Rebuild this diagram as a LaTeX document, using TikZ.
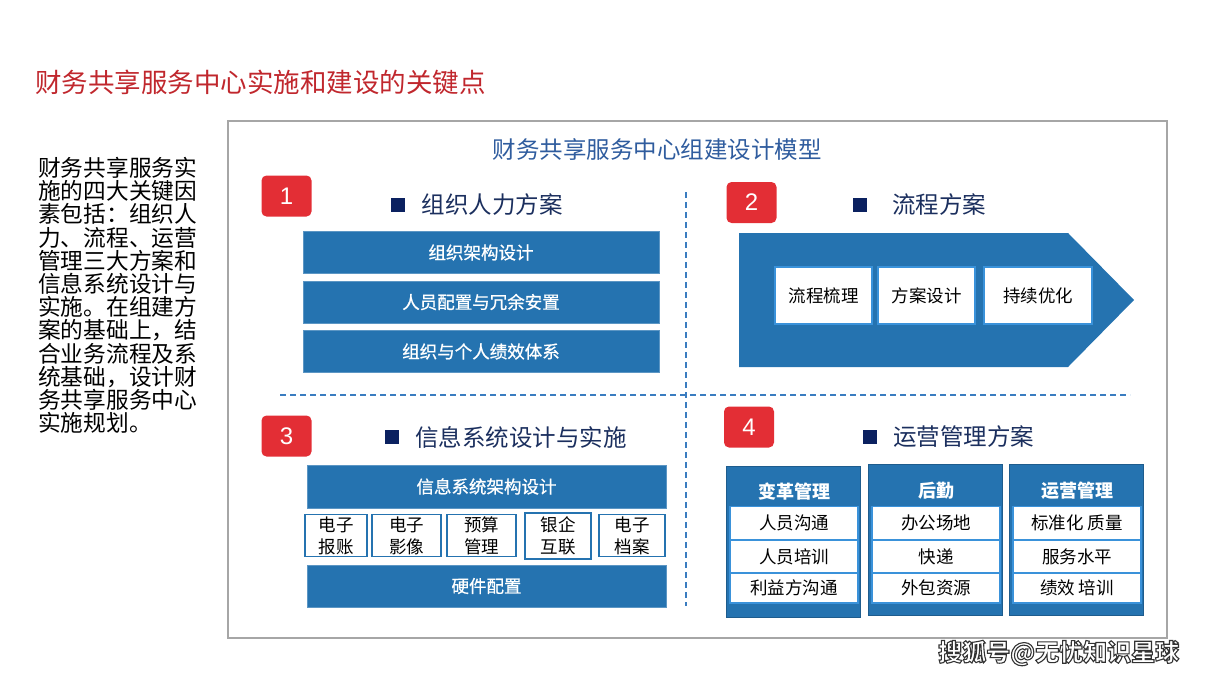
\documentclass[tikz,border=0pt]{standalone}
\usepackage{fontspec}
\setmainfont{Noto Sans CJK SC}
\newfontfamily\digitfont{Liberation Sans}
\newfontfamily\barfont[FakeBold=0.8]{Noto Sans CJK SC}

\definecolor{titlered}{HTML}{C0272D}
\definecolor{barblue}{HTML}{2573B0}
\definecolor{cellblue}{HTML}{3A92DA}
\definecolor{modelblue}{HTML}{2F5C9E}
\definecolor{headnavy}{HTML}{1B2F5E}
\definecolor{sqnavy}{HTML}{0B2160}
\definecolor{badgered}{HTML}{E32E35}
\definecolor{framegray}{HTML}{A6A6A6}
\definecolor{dashblue}{HTML}{3A7CC0}

\begin{document}
\begin{tikzpicture}[x=1pt,y=-1pt,
  badge/.style={fill=badgered,rounded corners=5,minimum width=50,minimum height=41,inner sep=0,text=white,font=\digitfont\fontsize{24}{24}\selectfont},
  hsq/.style={fill=sqnavy,minimum size=14,inner sep=0},
  head/.style={anchor=west,inner sep=0,text=headnavy,font=\fontsize{23.5}{26}\selectfont},
  bar/.style={fill=barblue,draw=barblue!75!white,line width=0.8,minimum width=356,minimum height=42,inner sep=0,text=white,font=\barfont\fontsize{17.5}{20}\selectfont},
  wbox/.style={fill=white,draw=cellblue,line width=1.5,minimum height=57,inner sep=0,font=\fontsize{17.5}{20}\selectfont},
  sbox/.style={fill=white,draw=barblue,line width=1.2,minimum height=42,inner sep=0,align=center,font=\fontsize{17.5}{22}\selectfont},
  colbox/.style={fill=barblue,draw=barblue!80!black,line width=0.8,minimum width=134,minimum height=151,inner sep=0},
  colhead/.style={text=white,inner sep=0,font=\bfseries\fontsize{18}{20}\selectfont},
  cell/.style={fill=white,draw=cellblue,line width=1.5,minimum width=128,inner sep=0,font=\fontsize{17.5}{20}\selectfont}]
  \useasboundingbox (0,0) rectangle (1209,680);

  % page title and side text
  \node[anchor=west,inner sep=0,text=titlered,font=\fontsize{26.5}{30}\selectfont] (title) at (35,82) {财务共享服务中心实施和建设的关键点};
  \node[anchor=north west,inner sep=0,align=left,font=\fontsize{22.7}{23.2}\selectfont] (intro) at (38,157)
    {财务共享服务实\\施的四大关键因\\素包括：组织人\\力、流程、运营\\管理三大方案和\\信息系统设计与\\实施。在组建方\\案的基础上，结\\合业务流程及系\\统基础，设计财\\务共享服务中心\\实施规划。};

  % model frame
  \draw[framegray,line width=2.5] (228,121) rectangle (1167,638);
  \node[inner sep=0,text=modelblue,font=\fontsize{23.5}{26}\selectfont] (model) at (657,150) {财务共享服务中心组建设计模型};
  \draw[dashblue,line width=1.1,dash pattern=on 6pt off 4pt] (686,192) -- (686,606);
  \draw[dashblue,line width=1.1,dash pattern=on 6pt off 4pt] (280,395) -- (1130,395);

  % 1
  \node[badge] (b1) at (286.5,196) {1};
  \node[hsq] (q1) at (398,205) {};
  \node[head] (t1) at (421.7,205) {组织人力方案};
  \node[bar] (r11) at (481,252.5) {组织架构设计};
  \node[bar] (r12) at (481,302) {人员配置与冗余安置};
  \node[bar] (r13) at (481,351.5) {组织与个人绩效体系};

  % 2
  \node[badge] (b2) at (751.5,202.5) {2};
  \node[hsq] (q2) at (860,205) {};
  \node[head] (t2) at (892,205) {流程方案};
  \fill[barblue] (739,233) -- (1068,233) -- (1134,300) -- (1068,367) -- (739,367) -- cycle;
  \node[wbox,minimum width=97] (p1) at (823.5,295.5) {流程梳理};
  \node[wbox,minimum width=97] (p2) at (926.5,295.5) {方案设计};
  \node[wbox,minimum width=108] (p3) at (1038,295.5) {持续优化};

  % 3
  \node[badge] (b3) at (286.5,436) {3};
  \node[hsq] (q3) at (392,436.5) {};
  \node[head] (t3) at (415,437) {信息系统设计与实施};
  \node[bar,minimum width=359,minimum height=43] (s1) at (486.5,486.5) {信息系统架构设计};
  \node[sbox,minimum width=62] (e1) at (336,535.5) {电子\\报账};
  \node[sbox,minimum width=69] (e2) at (406.5,535.5) {电子\\影像};
  \node[sbox,minimum width=69] (e3) at (481.5,535.5) {预算\\管理};
  \node[sbox,minimum width=66,minimum height=46] (e4) at (558,536) {银企\\互联};
  \node[sbox,minimum width=66] (e5) at (632,535.5) {电子\\档案};
  \node[bar,minimum width=359] (s2) at (486.5,586) {硬件配置};

  % 4
  \node[badge] (b4) at (749,427) {4};
  \node[hsq] (q4) at (870,437) {};
  \node[head] (t4) at (893,437) {运营管理方案};
  \node[colbox] (c1) at (793.5,541.5) {};
  \node[colbox] (c2) at (935,540) {};
  \node[colbox] (c3) at (1076,540) {};
  \node[colhead] (h1) at (794,491.7) {变革管理};
  \node[colhead] (h2) at (936,491) {后勤};
  \node[colhead] (h3) at (1077,491) {运营管理};
  \node[cell,minimum height=33] (k11) at (794,523) {人员沟通};
  \node[cell,minimum height=33] (k12) at (794,556.5) {人员培训};
  \node[cell,minimum height=30] (k13) at (794,588) {利益方沟通};
  \node[cell,minimum height=33] (k21) at (936,523) {办公场地};
  \node[cell,minimum height=33] (k22) at (936,556.5) {快递};
  \node[cell,minimum height=30] (k23) at (936,588) {外包资源};
  \node[cell,minimum height=33] (k31) at (1077,523) {标准化 质量};
  \node[cell,minimum height=33] (k32) at (1077,556.5) {服务水平};
  \node[cell,minimum height=30] (k33) at (1077,588) {绩效 培训};

  % watermark, white letters with a dark outline
  \node[anchor=west,inner sep=0,text=white,font=\bfseries\fontsize{24}{26}\selectfont] (wm) at (938,653)
    {\special{pdf:literal 2 Tr 1.1 w 0.2 0.2 0.2 RG}搜狐号@无忧知识星球\special{pdf:literal 0 Tr}};
\end{tikzpicture}
\end{document}
